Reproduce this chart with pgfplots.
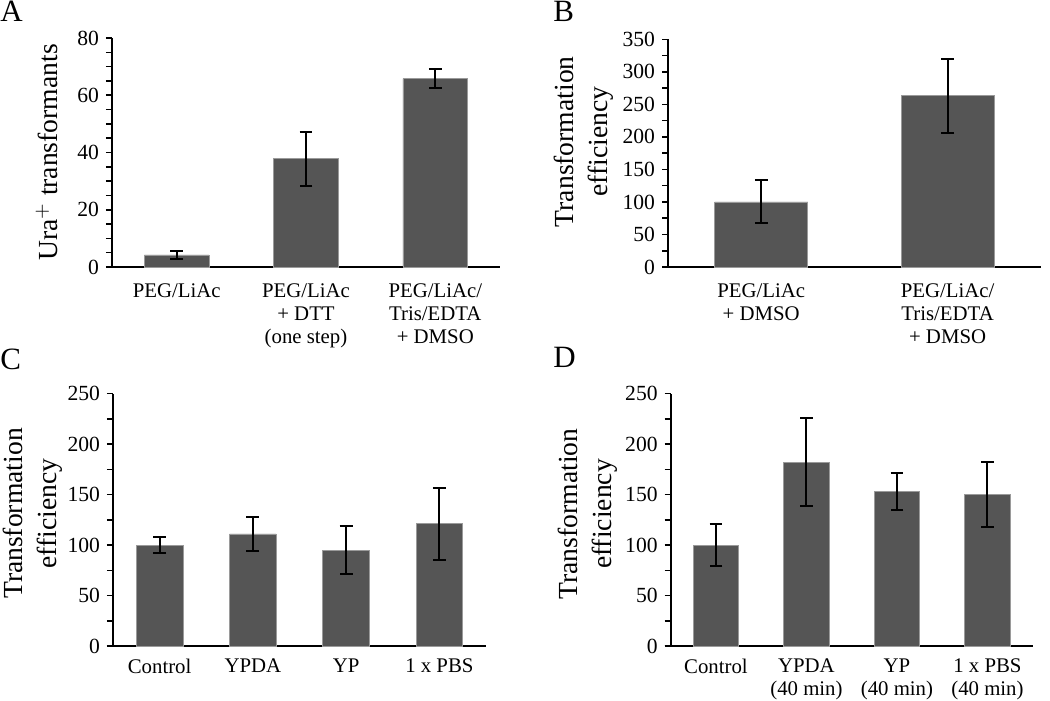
\documentclass[border=0pt]{standalone}
\usepackage{fontspec}
\setmainfont{Liberation Serif}
\usepackage{pgfplots}
\usepackage{pgfplotstable}
\pgfplotsset{compat=1.18}
\definecolor{barfill}{HTML}{555555}
\definecolor{baredge}{HTML}{9A9A9A}

\pgfplotstableread{
x y e
0 4.2 1.4
1 37.8 9.4
2 65.8 3.2
}\dataA
\pgfplotstableread{
x y e
0 100 33
1 263 56.5
}\dataB
\pgfplotstableread{
x y e
0 100 7.6
1 111 16.8
2 95 23.6
3 121 35.5
}\dataC
\pgfplotstableread{
x y e
0 100 21
1 182 43.7
2 153 18
3 150 32
}\dataD

\pgfplotsset{
  panel/.style={
    scale only axis,
    anchor=south west,
    axis x line*=bottom,
    axis y line*=left,
    axis line style={line width=1pt, black},
    x axis line style={shorten <=-3pt},
    ymin=0,
    tick align=outside,
    major tick length=3pt,
    minor tick length=3pt,
    ytick style={line width=0.8pt, black},
    minor tick style={line width=0.8pt, black},
    xtick style={draw=none},
    xtick=data,
    /pgf/number format/assume math mode=true,
    yticklabel style={font=\fontsize{10.8}{12}\selectfont},
    xticklabel style={font=\fontsize{10.4}{11.4}\selectfont, align=center, yshift=0pt},
    ylabel style={font=\fontsize{13.8}{17}\selectfont, align=center, anchor=center},
    clip=false,
  },
  barplot/.style={
    ybar, bar width=0.5, bar shift=0pt,
    fill=barfill, draw=baredge, line width=0.4pt,
    error bars/.cd, y dir=both, y explicit,
    error bar style={line width=1pt, black},
    error mark options={rotate=90, mark size=3.2pt, line width=1pt, black},
  },
}

\begin{document}
\begin{tikzpicture}[x=1pt,y=1pt]
\useasboundingbox (0,0) rectangle (525,350.5);

% Panel letters
\node[anchor=base west, inner sep=0pt, font=\fontsize{15.5}{17}\selectfont] at (0,339.5) {A};
\node[anchor=base west, inner sep=0pt, font=\fontsize{15.5}{17}\selectfont] at (276.5,339.5) {B};
\node[anchor=base west, inner sep=0pt, font=\fontsize{15.5}{17}\selectfont] at (0,165.5) {C};
\node[anchor=base west, inner sep=0pt, font=\fontsize{15.5}{17}\selectfont] at (276.5,166.5) {D};

% Panel A
\begin{axis}[panel, at={(56pt,217pt)}, width=194pt, height=114.5pt,
  xmin=-0.5, xmax=2.5, ymax=80,
  ytick={0,20,40,60,80}, minor y tick num=3,
  xticklabels={PEG/LiAc, PEG/LiAc\\+ DTT\\(one step), PEG/LiAc/\\Tris/EDTA\\+ DMSO},
  ylabel={Ura$^{+}$ transformants},
  ylabel style={at={(axis description cs:-0.1675,0.50)}},
  xticklabel style={yshift=-2pt},
]
\addplot[barplot] table[x=x, y=y, y error=e] {\dataA};
\end{axis}

% Panel B
\begin{axis}[panel, at={(334pt,217pt)}, width=186.4pt, height=113.85pt,
  xmin=-0.5, xmax=1.5, ymax=350,
  ytick={0,50,...,350}, minor y tick num=1,
  xticklabels={PEG/LiAc\\+ DMSO, PEG/LiAc/\\Tris/EDTA\\+ DMSO},
  ylabel={Transformation\\efficiency},
  ylabel style={at={(axis description cs:-0.225,0.55)}},
  xticklabel style={yshift=-2pt},
]
\addplot[barplot] table[x=x, y=y, y error=e] {\dataB};
\end{axis}

% Panel C
\begin{axis}[panel, at={(56.5pt,27.5pt)}, width=186.5pt, height=126.15pt,
  xmin=-0.5, xmax=3.5, ymax=250,
  ytick={0,50,...,250}, minor y tick num=1,
  xticklabels={Control, YPDA, YP, 1 x PBS},
  ylabel={Transformation\\efficiency},
  ylabel style={at={(axis description cs:-0.216,0.525)}},
]
\addplot[barplot] table[x=x, y=y, y error=e] {\dataC};
\end{axis}

% Panel D
\begin{axis}[panel, at={(335.35pt,27.5pt)}, width=181pt, height=126.15pt,
  xmin=-0.5, xmax=3.5, ymax=250,
  ytick={0,50,...,250}, minor y tick num=1,
  xticklabels={Control, YPDA\\(40 min), YP\\(40 min), 1 x PBS\\(40 min)},
  ylabel={Transformation\\efficiency},
  ylabel style={at={(axis description cs:-0.230,0.523)}},
]
\addplot[barplot] table[x=x, y=y, y error=e] {\dataD};
\end{axis}
\end{tikzpicture}
\end{document}
